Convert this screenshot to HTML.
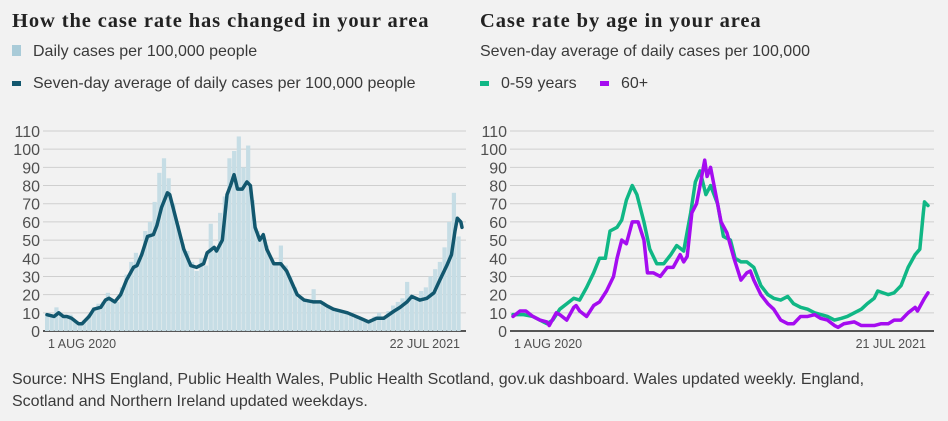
<!DOCTYPE html>
<html><head><meta charset="utf-8"><style>
body{margin:0;background:#f2f2f2;width:948px;height:421px;overflow:hidden;font-family:"Liberation Sans",sans-serif;color:#404040}
.t{position:absolute;font-family:"Liberation Serif",serif;font-weight:bold;font-size:20.5px;letter-spacing:0.9px;color:#222}
.s{position:absolute;font-size:16px;color:#3a3a3a}
svg{position:absolute;left:0;top:0}
</style></head><body>
<div class="t" style="left:12px;top:10px">How the case rate has changed in your area</div>
<div class="s" style="left:12px;top:43px"><span style="display:inline-block;width:9px;height:11px;background:#a9cbd8;margin-right:12px"></span>Daily cases per 100,000 people</div>
<div class="s" style="left:12px;top:75px"><span style="display:inline-block;width:9px;height:5px;background:#12576e;margin-right:12px;vertical-align:middle"></span>Seven-day average of daily cases per 100,000 people</div>
<div class="t" style="left:480px;top:10px">Case rate by age in your area</div>
<div class="s" style="left:480px;top:43px">Seven-day average of daily cases per 100,000</div>
<div class="s" style="left:480px;top:75px"><span style="display:inline-block;width:9px;height:5px;background:#10b785;margin-right:12px;vertical-align:middle"></span>0-59 years</div>
<div class="s" style="left:600px;top:75px"><span style="display:inline-block;width:9px;height:5px;background:#a50cf0;margin-right:12px;vertical-align:middle"></span>60+</div>
<div class="s" style="left:12px;top:369px;line-height:22px;width:885px">Source: NHS England, Public Health Wales, Public Health Scotland, gov.uk dashboard. Wales updated weekly. England, Scotland and Northern Ireland updated weekdays.</div>
<svg id="c" width="948" height="421"></svg>
<script>
const yTicks=[0,10,20,30,40,50,60,70,80,90,100,110];
const barDays=[];for(let d=0;d<=352;d+=4)barDays.push(d);
const barVals=[10,8,13,9,7,9,5,4,6,9,13,15,16,21,17,16,24,31,38,43,40,55,60,71,87,95,84,70,58,48,44,38,33,40,36,59,44,65,74,95,99,107,90,102,72,55,50,47,40,36,47,36,30,24,18,17,16,23,15,16,14,13,12,11,10,10,8,7,5,6,8,10,8,11,14,16,18,27,20,18,22,24,30,34,38,46,60,76,52];
const avgDays=[0,6,10,14,17,21,27,30,36,40,46,50,53,58,63,68,74,77,81,86,91,94,98,103,105,111,117,123,128,134,137,143,145,150,154,157,160,163,167,171,174,178,182,185,188,194,200,205,214,220,228,234,239,245,257,268,275,282,288,297,302,308,312,319,325,331,336,342,346,349,351,354,355];
const avgVals=[9,8,10,8,8,7,4,4,8,12,13,17,18,16,20,28,35,36,42,52,53,58,68,76,75,60,45,36,35,37,43,46,44,50,75,80,86,78,78,82,80,57,50,53,45,37,37,33,20,17,16,16,14,12,10,7,5,7,7,11,13,16,19,17,18,21,28,36,42,55,62,60,57];
const gDays=[0,9,17,23,29,34,40,46,52,57,63,69,74,79,83,89,93,97,102,106,112,117,123,129,135,140,146,152,156,160,165,169,175,180,186,190,195,200,206,212,218,223,229,235,240,246,252,258,269,275,281,286,292,298,303,309,312,321,326,332,338,344,348,351,352,355];
const gVals=[9,9,8,6,4,6,12,15,18,17,24,32,40,40,55,57,61,72,80,75,60,45,37,37,42,47,44,65,82,88,75,80,70,52,50,40,38,38,35,25,20,18,17,19,15,13,12,10,8,6,7,8,10,12,15,18,22,20,21,25,35,42,45,65,71,69];
const pDays=[0,6,11,17,23,29,31,37,40,46,52,54,57,63,69,74,80,86,89,93,97,102,107,112,115,120,126,132,137,143,146,149,153,157,160,164,166,169,172,178,183,189,195,200,203,206,212,218,223,229,235,240,246,252,258,263,269,275,278,283,292,298,309,315,321,326,332,338,344,346,352,355];
const pVals=[8,11,11,8,6,5,3,10,9,6,13,14,11,8,14,16,22,30,40,50,48,60,60,50,32,32,30,35,35,42,38,41,65,70,80,94,85,90,80,60,54,40,28,32,33,28,20,15,12,6,4,4,8,8,9,7,6,3,2,4,5,3,3,4,4,6,6,10,13,11,18,21];
const xLabelsL=["1 AUG 2020","22 JUL 2021"], xLabelsR=["1 AUG 2020","21 JUL 2021"];
const svg=document.getElementById('c'),NS='http://www.w3.org/2000/svg';
function mk(t,a){const e=document.createElementNS(NS,t);for(const k in a)e.setAttribute(k,a[k]);svg.appendChild(e);return e;}
const y=v=>331-v*200/110;
function panel(gx0,gx1,dx0,dx1,labels,side){
  const x=d=>dx0+d*(dx1-dx0)/355;
  yTicks.forEach(t=>{
    const l=mk('line',{x1:gx0,x2:gx1,y1:y(t),y2:y(t),stroke:t?'#cfcfcf':'#222','stroke-width':t?1:1.5});
    
    
    const tx=mk('text',{x:gx0-3,y:y(t)+6,'text-anchor':'end','font-size':16,fill:'#505050','font-family':'Liberation Sans, sans-serif'});
    tx.textContent=t;
    
    
  });
  const a=mk('text',{x:dx0+1,y:348,'font-size':12.5,fill:'#505050','font-family':'Liberation Sans, sans-serif'});a.textContent=labels[0];
  
  
  const b=mk('text',{x:dx1-2,y:348,'text-anchor':'end','font-size':12.5,fill:'#505050','font-family':'Liberation Sans, sans-serif'});b.textContent=labels[1];
  
  
  return x;
}
const xl=panel(43,466,47,462,xLabelsL,'left');
const xr=panel(510,934,513,928,xLabelsR,'right');
barDays.forEach((d,i)=>{
  const r=mk('rect',{x:xl(d)-2,y:y(barVals[i]),width:4.2,height:331-y(barVals[i]),fill:'#c6dde5'});
  
  
});
function line(xf,days,vals,col,name){
  const p=mk('polyline',{points:days.map((d,i)=>xf(d)+','+y(vals[i])).join(' '),fill:'none',stroke:col,'stroke-width':3.5,'stroke-linejoin':'round','stroke-linecap':'round'});
  
  
}
line(xl,avgDays,avgVals,'#12576e','seven-day-average-line');
line(xr,gDays,gVals,'#10b785','age-0-59-line');
line(xr,pDays,pVals,'#a50cf0','age-60-plus-line');
</script>
</body></html>
